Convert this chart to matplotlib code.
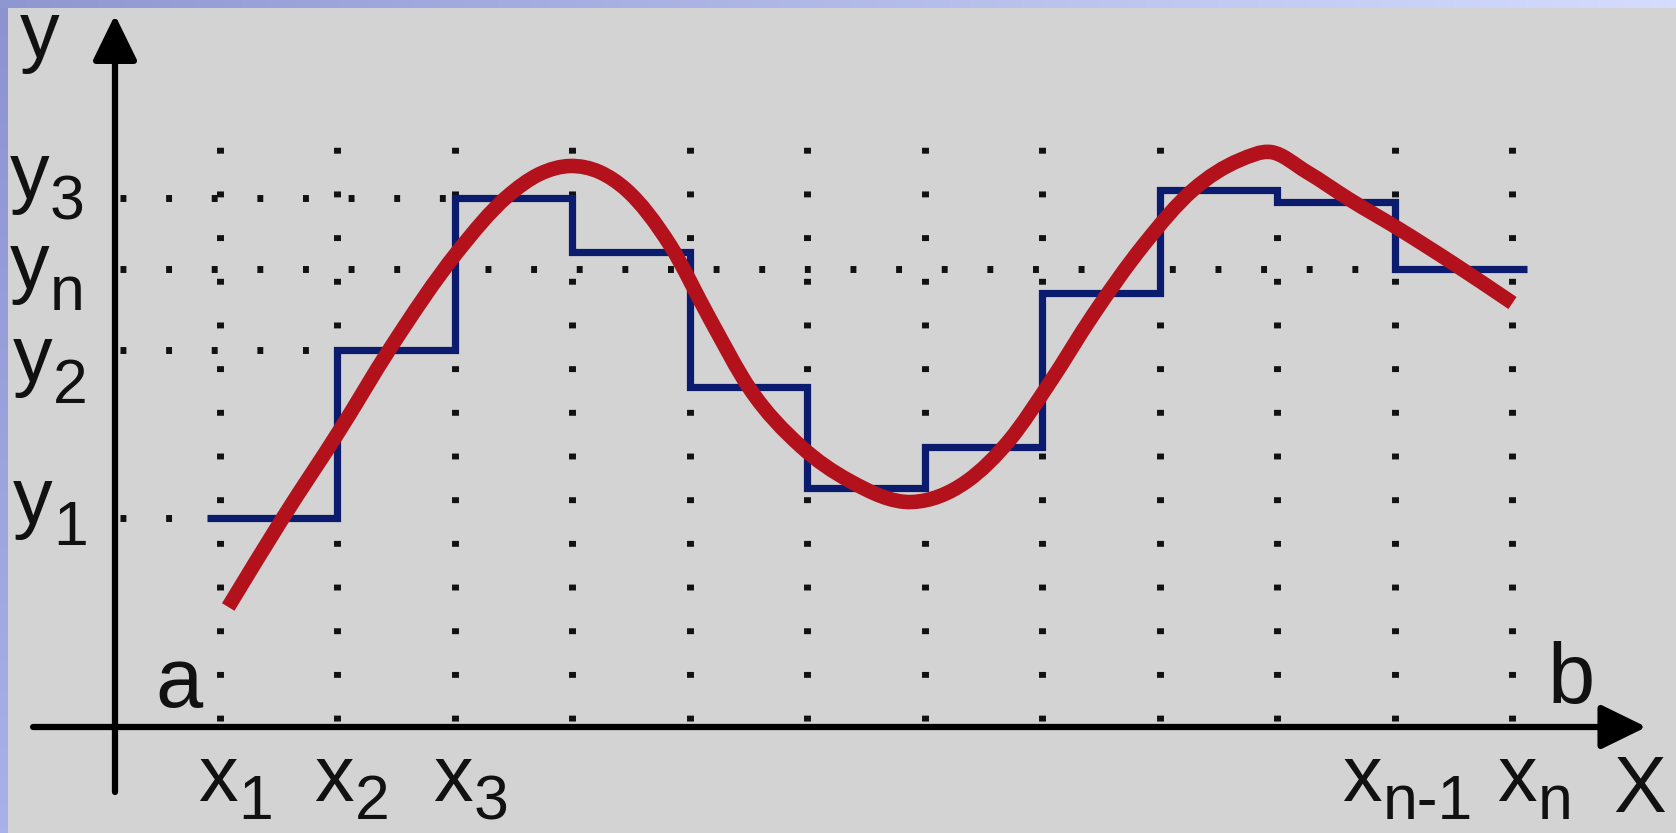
import numpy as np
import matplotlib.pyplot as plt
from matplotlib.path import Path
from matplotlib.patches import PathPatch
from matplotlib.transforms import offset_copy

plt.rcParams['font.family'] = ['Liberation Sans', 'DejaVu Sans']

# grid nodes x1..xn (index units) and the levels marked on the y axis
x_nodes = list(range(1, 13))
level_names = ['1', '2', '3', 'n']
level_values = [2.09, 3.77, 5.29, 4.58]

# step approximation: one height per interval
step_edges = [0.89, 2, 3, 4, 5, 6, 7, 8, 9, 10, 11, 12.12]
step_values = [2.09, 3.77, 5.29, 4.75, 3.40, 2.39, 2.80, 4.34, 5.37, 5.25, 4.58]

# the smooth function
curve_x = [1.07, 1.54, 2.02, 2.45, 3.02, 3.44, 3.72, 3.98, 4.23, 4.46, 4.83, 5.17,
           5.51, 5.94, 6.36, 6.89, 7.36, 7.72, 8.06, 8.43, 8.86, 9.28, 9.68, 9.94,
           10.25, 10.62, 11.02, 11.49, 12.00]
curve_y = [1.20, 2.10, 2.97, 3.79, 4.75, 5.30, 5.53, 5.61, 5.55, 5.37, 4.82, 4.08,
           3.38, 2.81, 2.46, 2.25, 2.46, 2.87, 3.44, 4.12, 4.82, 5.37, 5.67, 5.75,
           5.55, 5.27, 4.99, 4.64, 4.24]

# how far each horizontal guide runs to the right
level_ends = [0.89, 2.0, 3.0, 12.0]

BG = '#d3d3d3'
INK = '#111111'

fig = plt.figure(figsize=(16.76, 8.33), dpi=100, facecolor=BG)
ax = fig.add_axes([0, 0, 1, 1])
ax.set_xlim(-0.8723, 13.3915)
ax.set_ylim(-1.06, 7.27)
ax.axis('off')

# dotted guides
for xv in x_nodes:
    ax.plot([xv, xv], [0, 5.8], color=INK, lw=5, ls=(5.43, (0.85, 5.44)), zorder=1)
for lv, xe in zip(level_values, level_ends):
    ax.plot([0.149, xe], [lv, lv], color=INK, lw=5, ls=(0, (0.85, 5.72)), zorder=1)

# step function
ax.stairs(step_values, step_edges, baseline=None, color='#0b1c6e', lw=5.2, zorder=3)

# smooth curve through the read points: piecewise cubic drawn as Bezier segments
cx = np.array(curve_x)
cy = np.array(curve_y)
h = np.diff(cx)
d = np.diff(cy) / h
m = np.empty_like(cy)
m[0], m[-1] = d[0], d[-1]
m[1:-1] = (d[1:] * h[:-1] + d[:-1] * h[1:]) / (h[:-1] + h[1:])
verts = [(cx[0], cy[0])]
codes = [Path.MOVETO]
for i in range(len(cx) - 1):
    verts += [(cx[i] + h[i] / 3, cy[i] + m[i] * h[i] / 3),
              (cx[i + 1] - h[i] / 3, cy[i + 1] - m[i + 1] * h[i] / 3),
              (cx[i + 1], cy[i + 1])]
    codes += [Path.CURVE4] * 3
ax.add_patch(PathPatch(Path(verts, codes), fill=False, edgecolor='#b3121c', lw=10.5,
                       capstyle='butt', joinstyle='round', zorder=4))

# axes with arrows
arrow = dict(arrowstyle='-|>,head_length=0.45,head_width=0.22', mutation_scale=62,
             lw=4.5, color='black', shrinkA=0, shrinkB=0)
ax.annotate('', xy=(13.14, 0), xytext=(-0.591, 0), arrowprops=arrow, zorder=5)
ax.annotate('', xy=(0.1064, 7.12), xytext=(0.1064, -0.65), arrowprops=arrow, zorder=5)

MAIN = 57
SUB = 45


def label(x, y, main, sub, dx=41, dy=18):
    ax.text(x, y, main, fontsize=MAIN, ha='left', va='baseline', color=INK, zorder=6)
    tr = offset_copy(ax.transData, fig=fig, x=dx, y=-dy, units='dots')
    ax.text(x, y, sub, transform=tr, fontsize=SUB, ha='left', va='baseline',
            color=INK, zorder=6)


# y axis labels
ax.text(-0.702, 6.70, 'y', fontsize=MAIN, ha='left', va='baseline', color=INK)
y_label_pos = {'3': (-0.787, 5.29), 'n': (-0.787, 4.39), '2': (-0.762, 3.46), '1': (-0.762, 2.04)}
for name in level_names:
    px, py = y_label_pos[name]
    label(px, py, 'y', name, dx=40, dy=22)

# x axis labels
x_label_pos = [(0.81, '1'), (1.80, '2'), (2.81, '3'), (10.55, 'n-1'), (11.87, 'n')]
for px, sub in x_label_pos:
    label(px, -0.74, 'x', sub)

ax.text(0.447, 0.20, 'a', fontsize=61, ha='left', va='baseline', color=INK)
ax.text(12.294, 0.24, 'b', fontsize=61, ha='left', va='baseline', color=INK)
ax.text(12.86, -0.85, 'X', fontsize=MAIN, ha='left', va='baseline', color=INK)

# slide border: bluish strips on top and left
top = fig.add_axes([0, 1 - 8 / 833, 1, 8 / 833])
g = np.linspace(0, 1, 256)[None, :, None]
top_rgb = np.array([0x8f, 0x97, 0xd2]) / 255 * (1 - g) + np.array([0xd5, 0xdc, 0xfe]) / 255 * g
top.imshow(top_rgb, aspect='auto', extent=[0, 1, 0, 1])
top.axis('off')

left = fig.add_axes([0, 0, 7 / 1676, 1 - 8 / 833])
v = np.linspace(0, 1, 256)[:, None, None]
left_rgb = np.array([0x8c, 0x93, 0xcf]) / 255 * (1 - v) + np.array([0xa9, 0xb1, 0xea]) / 255 * v
left.imshow(left_rgb, aspect='auto', extent=[0, 1, 0, 1])
left.axis('off')

fig.savefig('out.png', dpi=100, facecolor=BG)
